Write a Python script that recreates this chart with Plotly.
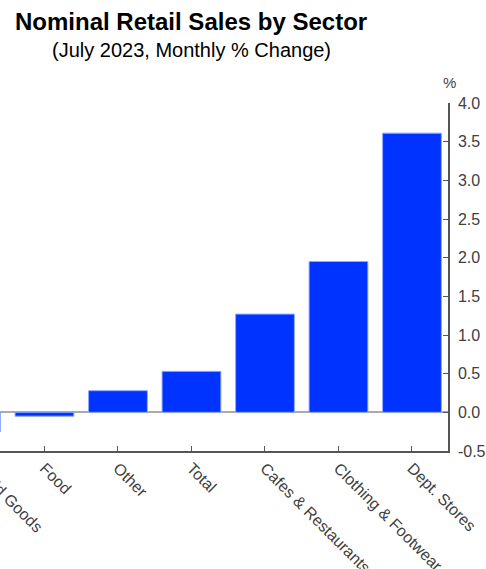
import plotly.graph_objects as go

categories = ["Household Goods", "Food", "Other", "Total", "Cafes & Restaurants",
              "Clothing & Footwear", "Dept. Stores"]
values = [-0.25, -0.05, 0.28, 0.53, 1.27, 1.95, 3.61]
y_ticks = [-0.5, 0.0, 0.5, 1.0, 1.5, 2.0, 2.5, 3.0, 3.5, 4.0]
y_tick_text = ["-0.5", "0.0", "0.5", "1.0", "1.5", "2.0", "2.5", "3.0", "3.5", "4.0"]

font = "Liberation Sans, Arial, sans-serif"
W, H = 486, 569
ML, MR, MT, MB = 0, 38, 103, 118
pw = W - ML - MR
ph = H - MT - MB


def px_to_paper(px, py):
    return (px - ML) / pw, (H - MB - py) / ph


fig = go.Figure(go.Bar(
    x=list(range(len(categories))),
    y=values,
    width=0.8,
    marker=dict(color="#0033ff", line=dict(color="#8fa8ff", width=1)),
))

ann = []
for text, px, py, size, color, angle in [
    ("<b>Nominal Retail Sales by Sector</b>", 191, 22, 24, "black", 0),
    ("(July 2023, Monthly % Change)", 191, 50, 20, "black", 0),
    ("%", 449, 82, 15, "#444444", 0),
]:
    x, y = px_to_paper(px, py)
    ann.append(dict(text=text, x=x, y=y, xref="paper", yref="paper", showarrow=False,
                    xanchor="center", yanchor="middle", textangle=angle,
                    font=dict(size=size, color=color, family=font)))

# first category label lies outside the visible range (chart is cropped on the left)
x0, y0 = px_to_paper(-5, 484)
ann.append(dict(text=categories[0], x=x0, y=y0, xref="paper", yref="paper", showarrow=False,
                xanchor="center", yanchor="middle", textangle=45,
                font=dict(size=16, color="#404040", family=font)))

fig.update_layout(
    width=W, height=H,
    margin=dict(l=ML, r=MR, t=MT, b=MB, autoexpand=False),
    paper_bgcolor="white", plot_bgcolor="white",
    showlegend=False,
    font=dict(family=font, color="#333333"),
    annotations=ann,
)

fig.update_xaxes(
    range=[0.395, 6.49],
    tickmode="array",
    tickvals=list(range(len(categories))),
    ticktext=categories,
    tickangle=45,
    tickfont=dict(size=16, color="#404040", family=font),
    tickson="boundaries",
    ticks="inside", ticklen=5, tickcolor="#555555",
    showline=True, linecolor="#555555", linewidth=1.5,
    showgrid=False, zeroline=False,
    automargin=False,
)
fig.update_yaxes(
    range=[-0.5, 4.0],
    side="right",
    tickmode="array", tickvals=y_ticks, ticktext=y_tick_text,
    tickfont=dict(size=16, color="#404040", family=font),
    ticks="inside", ticklen=5, tickcolor="#555555",
    ticklabelstandoff=5,
    showline=True, linecolor="#555555", linewidth=1.5,
    showgrid=False,
    zeroline=True, zerolinecolor="#aaaaaa", zerolinewidth=1.5,
    automargin=False,
)

fig.write_html("out.html")
